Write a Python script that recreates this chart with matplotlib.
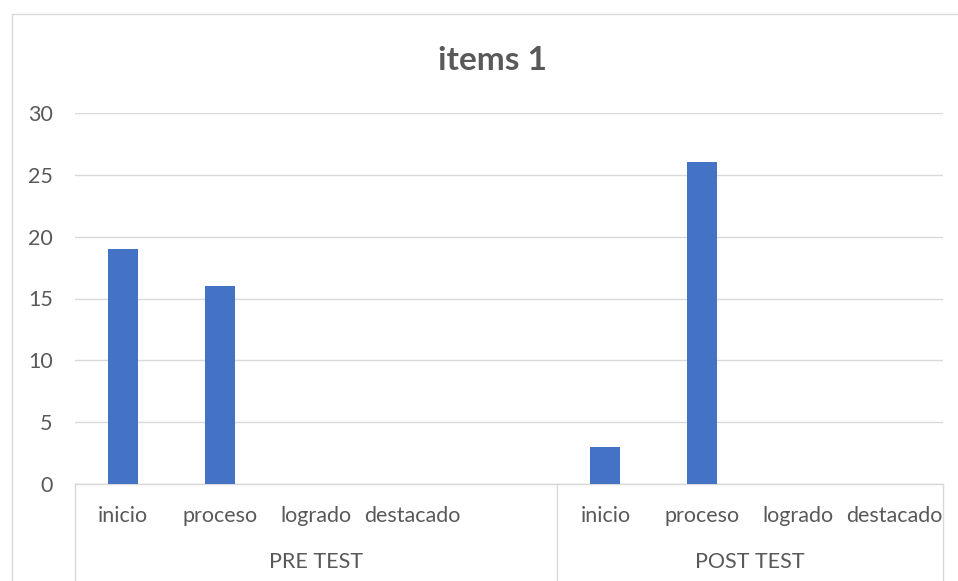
import matplotlib.pyplot as plt
import matplotlib.transforms as mtransforms
from matplotlib.patches import Rectangle

# data
groups = ['PRE TEST', 'POST TEST']
categories_pre = ['inicio', 'proceso', 'logrado', 'destacado', '']
categories_post = ['inicio', 'proceso', 'logrado', 'destacado']
values_pre = [19, 16, 0, 0, 0]
values_post = [3, 26, 0, 0]
title = 'items 1'

labels = categories_pre + categories_post
values = values_pre + values_post
xs = list(range(len(labels)))

bar_color = '#4472C4'
text_color = '#595959'
grid_color = '#D9D9D9'

plt.rcParams['font.family'] = ['Lato', 'DejaVu Sans']

fig = plt.figure(figsize=(9.58, 5.81), dpi=100)
W, H = 958, 581
ax = fig.add_axes([75 / W, (H - 484) / H, (943 - 75) / W, (484 - 113) / H])

ax.bar(xs, values, width=0.31, color=bar_color, zorder=3)

ax.set_xlim(-0.5, len(labels) - 0.5)
ax.set_ylim(0, 30)
ax.set_yticks(range(0, 31, 5))
ax.tick_params(axis='y', length=0, pad=16, labelsize=15.5, labelcolor=text_color)
ax.set_xticks([])
ax.yaxis.grid(True, color=grid_color, linewidth=1, zorder=0)
for s in ['top', 'right', 'left']:
    ax.spines[s].set_visible(False)
ax.spines['bottom'].set_color(grid_color)
ax.spines['bottom'].set_linewidth(1)

# category labels
trans = mtransforms.blended_transform_factory(ax.transData, ax.transAxes)
for x, lab in zip(xs, labels):
    ax.text(x, -0.086, lab, transform=trans, ha='center', va='center',
            fontsize=15.5, color=text_color)

# group labels and separators
n_pre = len(categories_pre)
bounds = [-0.5, n_pre - 0.5, len(labels) - 0.5]
for i, g in enumerate(groups):
    mid = (bounds[i] + bounds[i + 1]) / 2
    ax.text(mid, -0.21, g, transform=trans, ha='center', va='center',
            fontsize=15.5, color=text_color)
for b in bounds:
    ax.plot([b, b], [0, -0.27], transform=trans, color=grid_color,
            linewidth=1, clip_on=False)

fig.suptitle(title, x=492 / W, y=1 - 60 / H, va='center', fontsize=24,
             fontweight='bold', color=text_color)

# chart border
fig.patches.append(Rectangle((12 / W, -0.1), 1.0, 1 - 14 / H + 0.1,
                             transform=fig.transFigure, fill=False,
                             edgecolor=grid_color, linewidth=1))

fig.savefig('out.png', dpi=100)
